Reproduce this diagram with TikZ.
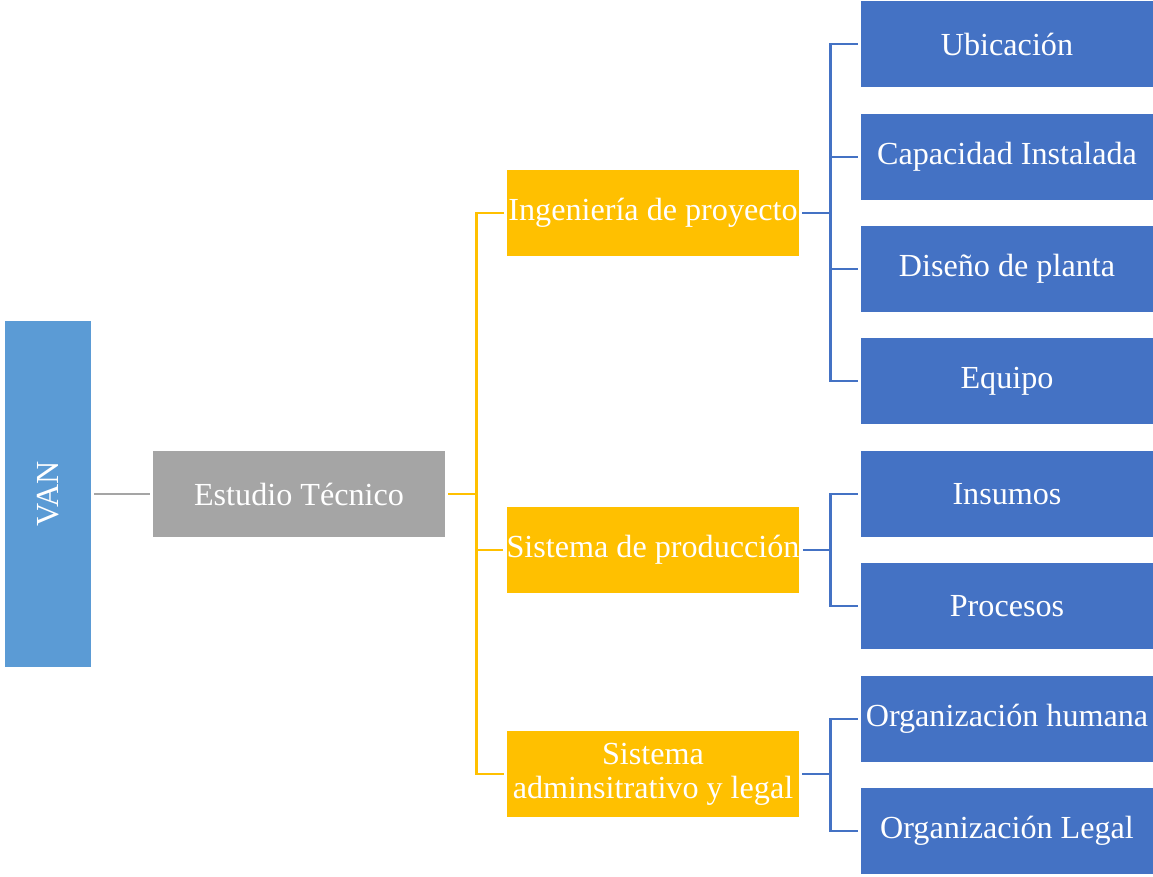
\documentclass[tikz,border=0pt]{standalone}
\usepackage{fontspec}
\setmainfont{Liberation Serif}
\usetikzlibrary{positioning}

\begin{document}
\begin{tikzpicture}[
    x=0.02cm,
    y=-0.02cm,
    box/.style={minimum width=5.84cm, minimum height=1.72cm, inner sep=0pt,
        text=white, align=center, font=\fontsize{18.3}{19.5}\selectfont},
    vanbox/.style={fill=colVAN, minimum width=1.72cm, minimum height=6.94cm,
        inner sep=0pt, text=white, font=\fontsize{18.3}{19.5}\selectfont},
    estbox/.style={box, fill=colEST},
    subbox/.style={box, fill=colSUB},
    leafbox/.style={box, fill=colLEAF},
    lineG/.style={draw=colEST, line width=1.5pt, shorten <=0.06cm, shorten >=0.06cm},
    lineO/.style={draw=colSUB, line width=1.5pt},
    lineB/.style={draw=colLEAF, line width=1.6pt}
]

\definecolor{colVAN}{HTML}{5B9BD5}
\definecolor{colEST}{HTML}{A5A5A5}
\definecolor{colSUB}{HTML}{FFC000}
\definecolor{colLEAF}{HTML}{4472C4}

\useasboundingbox (0,0) rectangle (1153,876);

% root and first level
\node[vanbox] (van) at (48, 494) {\rotatebox{90}{VAN}};
\node[estbox] (est) at (299, 494) {Estudio Técnico};

% second level
\node[subbox] (ing) at (653, 213) {Ingeniería de proyecto};
\node[subbox] (prod) at (653, 550) {Sistema de producción};
\node[subbox] (adm) at (653, 774) {Sistema\\adminsitrativo y legal};

% leaves
\foreach \nm/\y/\txt in {ubi/44/Ubicación, cap/157/Capacidad Instalada,
        dis/269/Diseño de planta, equ/381/Equipo, ins/494/Insumos,
        pro/606/Procesos, orh/719/Organización humana, orl/831/Organización Legal} {
    \node[leafbox] (\nm) at (1007, \y) {\txt};
}

% connectors
\draw[lineG] (van.east) -- (est.west);

\draw[lineO, shorten <=0.06cm] (est.east) -- ++(31,0) coordinate (busO);
\foreach \ch in {ing, prod, adm} {
    \draw[lineO, shorten >=0.06cm] (busO) |- (\ch.west);
}

\foreach \pa in {ing, prod, adm} {
    \draw[lineB, shorten <=0.06cm] (\pa.east) -- ++(31,0) coordinate (bus-\pa);
}
\foreach \pa/\ch in {ing/ubi, ing/cap, ing/dis, ing/equ, prod/ins, prod/pro,
        adm/orh, adm/orl} {
    \draw[lineB, shorten >=0.06cm] (bus-\pa) |- (\ch.west);
}

\end{tikzpicture}
\end{document}
